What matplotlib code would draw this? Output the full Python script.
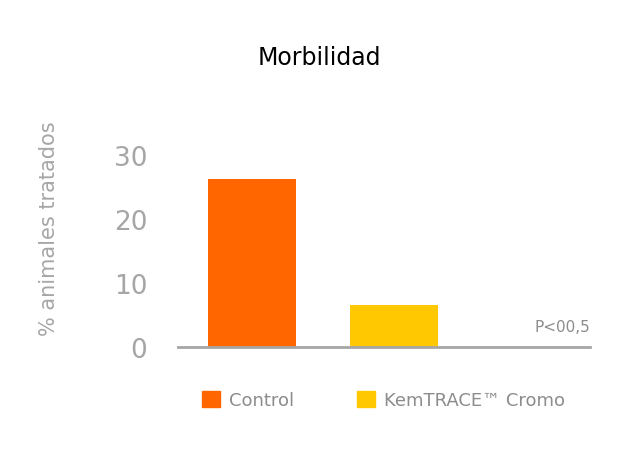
import matplotlib.pyplot as plt
from matplotlib.patches import Patch

categories = ["Control", "KemTRACE\u2122 Cromo", ""]
values = [26.3, 6.6, 0]
colors = ["#FF6600", "#FFC800", "#FFFFFF"]
yticks = [0, 10, 20, 30]

grey = "#A6A6A6"
fig = plt.figure(figsize=(6.39, 4.56), dpi=100)
ax = fig.add_axes([0.2786, 0.2368, 0.645, 0.421])
ax.bar(range(3), values, width=0.62, color=colors)
ax.set_xlim(-0.52, 2.38)
ax.set_ylim(0, 30)
ax.set_yticks(yticks)
ax.set_xticks([])
ax.tick_params(axis="y", length=0, labelsize=19, labelcolor=grey, pad=22)
for s in ["top", "right", "left"]:
    ax.spines[s].set_visible(False)
ax.spines["bottom"].set_color(grey)
ax.spines["bottom"].set_linewidth(2)
ax.set_ylabel("% animales tratados", fontsize=15, color=grey, labelpad=12)
ax.yaxis.set_label_coords(-0.29, 0.62)
ax.text(2.38, 3.2, "P<00,5", ha="right", va="center", fontsize=11, color="#8C8C8C")

fig.text(0.5, 0.873, "Morbilidad", ha="center", va="center", fontsize=17)
handles = [Patch(color=colors[0], label=categories[0]),
           Patch(color=colors[1], label=categories[1])]
fig.legend(handles=handles, loc="center", bbox_to_anchor=(0.6, 0.12), ncol=2,
           frameon=False, fontsize=13, labelcolor="#8C8C8C", handlelength=1,
           handleheight=1, columnspacing=3.5, handletextpad=0.5)
fig.savefig("out.png", dpi=100)
